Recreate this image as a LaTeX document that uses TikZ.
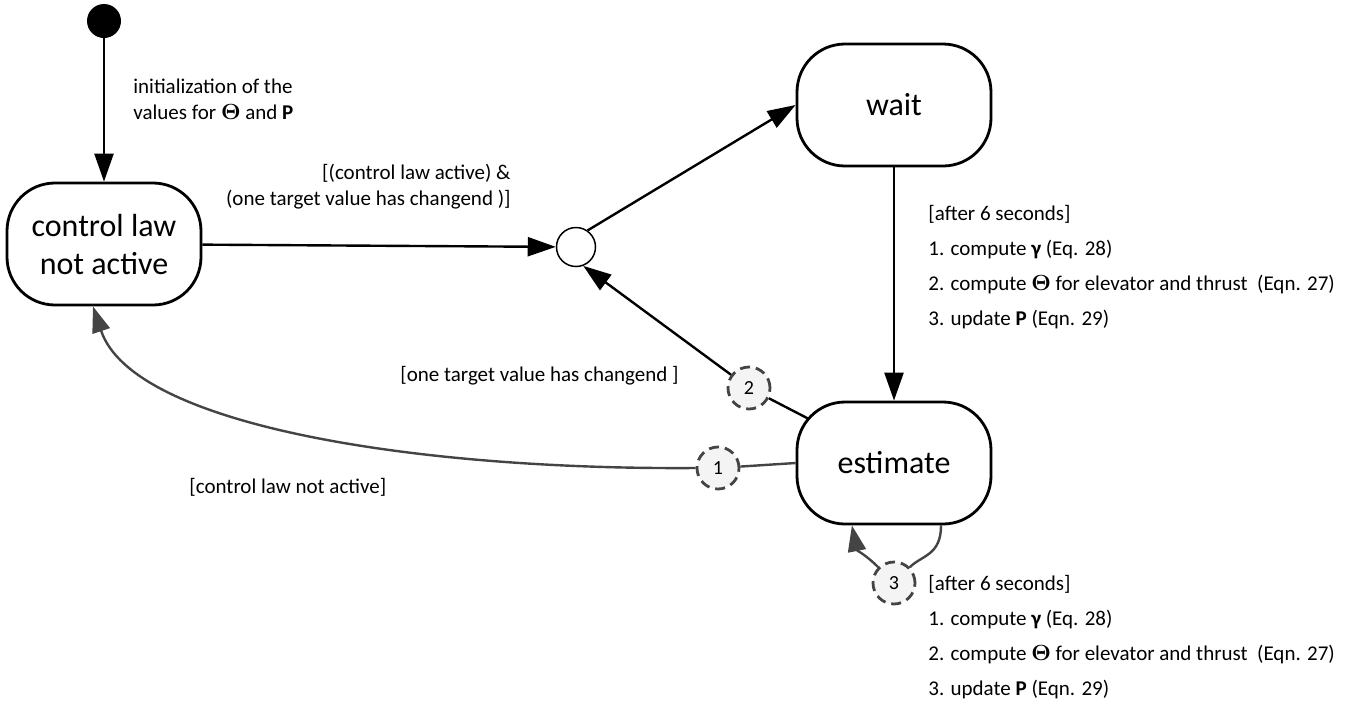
\documentclass[tikz,border=0pt]{standalone}
\usepackage[no-math]{fontspec}
\setmainfont{Carlito}
\usepackage{amsmath}
\usetikzlibrary{arrows.meta,backgrounds}
\definecolor{loopgray}{RGB}{68,68,68}
\definecolor{markfill}{RGB}{244,244,244}

\tikzset{
  statebox/.style={draw, line width=1.4pt, rounded corners=24pt, fill=white,
    minimum width=97pt, minimum height=61pt, align=center,
    font=\fontsize{16}{19}\selectfont},
  trans/.style={line width=1.2pt, -{Triangle[length=14pt,width=9.5pt]}},
  retgray/.style={line width=1.2pt, draw=loopgray, -{Triangle[length=13pt,width=9pt]}},
  guard/.style={inner sep=0pt, font=\fontsize{10.5}{13}\selectfont},
  numc/.style={circle, draw=loopgray, line width=1.4pt, dash pattern=on 5pt off 3pt,
    fill=markfill, minimum size=21pt, inner sep=0pt, font=\fontsize{10}{12}\selectfont}
}

\begin{document}
\begin{tikzpicture}[x=0.5pt, y=-0.5pt]
  \useasboundingbox (0,0) rectangle (1360,703);

  % --- zustaende ---
  \node[circle, fill=black, minimum size=17pt, inner sep=0pt] (init) at (104,21) {};
  \node[statebox] (cl) at (104,244) {control law\\not active};
  \node[statebox] (wait) at (894,105) {wait};
  \node[statebox] (est) at (894,463) {estimate};
  \node[circle, draw, line width=0.75pt, fill=white, minimum size=19.5pt, inner sep=0pt] (junc) at (576,247) {};

  % --- nummern ---
  \node[numc] (c1) at (718,468) {1};
  \node[numc] (c2) at (749,388) {2};
  \node[numc] (c3) at (894,583) {3};

  % --- uebergaenge ---
  \draw[trans] (init) -- (cl);
  \draw[trans] (cl) -- (junc);
  \draw[trans] (junc.55) -- (wait.west);
  \draw[trans] (wait) -- (est);
  \draw[trans] (c2) -- (junc.-69);
  \begin{pgfonlayer}{background}
    \draw[line width=1.2pt] (c2) -- (est.center);
  \end{pgfonlayer}
  \draw[line width=1.2pt, loopgray] (est.west) -- (c1);
  \draw[retgray] (c1.west) .. controls +(-277,2) and +(40,120) .. (cl.-100);
  \draw[line width=1.2pt, loopgray] (est.-53) .. controls +(0,30) and +(12,-12) .. (c3.45);
  \draw[retgray] (c3.135) .. controls +(-12,-12) and +(5,25) .. (est.-124);

  % --- beschriftungen ---
  \node[guard, anchor=north west, align=left] (lbinit) at (133,79)
    {initialization of the\\values for $\mathbf{\Theta}$ and \textbf{P}};
  \node[guard, anchor=north east, align=right] (lbact) at (511,164)
    {[(control law active) \&\\(one target value has changend~)]};
  \node[guard, anchor=base west] (lbchg) at (400,381) {[one target value has changend~]};
  \node[guard, anchor=base west] (lbnot) at (189,493) {[control law not active]};
  \node[guard, anchor=north west, align=left, font=\fontsize{10.5}{17.5}\selectfont] (lbwait) at (928,205)
    {[after 6 seconds]\\1. compute {\bfseries γ} (Eq. 28)\\2. compute $\mathbf{\Theta}$ for elevator and thrust~~(Eqn. 27)\\3. update \textbf{P} (Eqn. 29)};
  \node[guard, anchor=north west, align=left, font=\fontsize{10.5}{17.5}\selectfont] (lbloop) at (928,575)
    {[after 6 seconds]\\1. compute {\bfseries γ} (Eq. 28)\\2. compute $\mathbf{\Theta}$ for elevator and thrust~~(Eqn. 27)\\3. update \textbf{P} (Eqn. 29)};

\end{tikzpicture}
\end{document}
